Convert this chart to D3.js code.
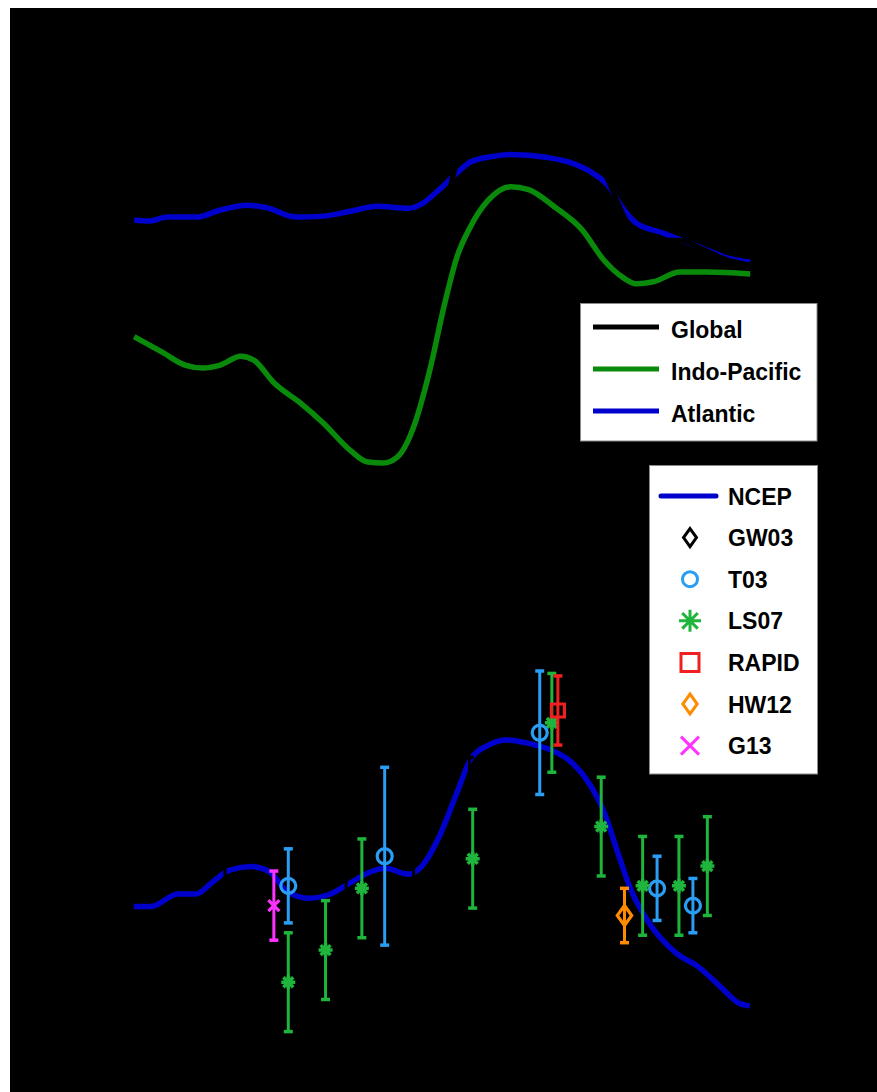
<!DOCTYPE html>
<html>
<head>
<meta charset="utf-8">
<script src="https://cdn.jsdelivr.net/npm/d3@7"></script>
<style>
  body { margin: 0; background: #fff; }
  svg { display: block; }
  text { font-family: "Liberation Sans", Arial, sans-serif; font-weight: bold; }
</style>
</head>
<body>
<div id="chart"></div>
<script>
// top panel: heat transport by basin (latitude, PW)
const latTop = [-64.5, -61.3, -57.4, -51.2, -46.1, -40.3, -36.4, -29.7, -23.9, -18.1, -12.3, -5.7, -2.9, 1.0, 4.8, 7.6, 12.6, 16.4, 24.0, 28.9, 33.6, 37.5, 40.3, 43.3, 48.9, 52.7, 57.7, 62.4, 67.8];
const atlantic = [0.52, 0.51, 0.55, 0.55, 0.62, 0.67, 0.65, 0.55, 0.56, 0.61, 0.66, 0.64, 0.68, 0.83, 1.00, 1.11, 1.17, 1.19, 1.16, 1.11, 1.01, 0.86, 0.65, 0.49, 0.39, 0.32, 0.23, 0.14, 0.09];
const globalMht = [-0.15, -0.24, -0.31, -0.43, -0.34, -0.21, -0.37, -0.76, -0.99, -1.22, -1.30, -1.08, -0.64, 0.25, 1.14, 1.55, 1.94, 2.05, 1.88, 1.65, 1.31, 0.91, 0.59, 0.36, 0.31, 0.31, 0.22, 0.12, 0.06];
const latPac = [-64.5, -58.4, -53.6, -49.7, -46.0, -41.6, -38.8, -34.5, -28.7, -23.9, -18.1, -14.3, -11.0, -8.0, -4.7, -1.0, 2.0, 4.8, 7.7, 11.5, 16.4, 20.2, 25.9, 31.7, 36.4, 40.3, 43.3, 47.0, 52.7, 58.5, 67.8];
const indoPacific = [-0.67, -0.83, -0.96, -0.99, -0.96, -0.87, -0.91, -1.14, -1.35, -1.55, -1.83, -1.95, -1.96, -1.90, -1.62, -1.01, -0.37, 0.14, 0.45, 0.72, 0.86, 0.83, 0.65, 0.42, 0.11, -0.06, -0.13, -0.11, -0.01, -0.01, -0.03];

// bottom panel: Atlantic NCEP and observations
const latNcep = [-64.6, -60.9, -55.1, -51.2, -47.9, -44.0, -39.2, -35.4, -31.6, -26.8, -22.9, -18.1, -14.3, -10.5, -5.7, -2.8, 1.0, 4.8, 7.7, 11.6, 15.4, 20.2, 25.0, 28.8, 32.7, 36.5, 39.4, 42.2, 46.1, 51.9, 56.6, 61.4, 65.3, 67.7];
const ncep = [0.536, 0.536, 0.587, 0.587, 0.632, 0.684, 0.698, 0.677, 0.596, 0.570, 0.583, 0.632, 0.672, 0.691, 0.667, 0.698, 0.819, 0.996, 1.130, 1.190, 1.211, 1.197, 1.170, 1.130, 1.049, 0.915, 0.753, 0.603, 0.470, 0.348, 0.293, 0.212, 0.146, 0.134];

const gw03Lat = [-45, -19, -4.5, 7.5];
const gw03 = [0.48, 0.42, 0.45, 0.92];
const gw03Err = [0.22, 0.25, 0.3, 0.22];

const t03Lat = [-31.4, -10.7, 22.6, 47.8, 55.5];
const t03 = [0.62, 0.74, 1.24, 0.61, 0.54];
const t03Err = [0.15, 0.36, 0.25, 0.13, 0.11];

const ls07Lat = [-31.4, -23.4, -15.6, 8.2, 25.2, 35.8, 44.7, 52.5, 58.6];
const ls07 = [0.23, 0.36, 0.61, 0.73, 1.28, 0.86, 0.62, 0.62, 0.70];
const ls07Err = [0.2, 0.2, 0.2, 0.2, 0.2, 0.2, 0.2, 0.2, 0.2];

const rapidLat = [26.5], rapid = [1.33], rapidErr = [0.14];
const hw12Lat = [40.8], hw12 = [0.50], hw12Err = [0.11];
const g13Lat = [-34.5], g13 = [0.54], g13Err = [0.14];

const topLegend = ['Global', 'Indo-Pacific', 'Atlantic'];
const botLegend = ['NCEP', 'GW03', 'T03', 'LS07', 'RAPID', 'HW12', 'G13'];

const W = 877, H = 1092;
const C = {
  global: '#000000', pac: '#0a8a0a', atl: '#0000cd',
  ncep: '#0000cd', gw03: '#000000', t03: '#2a9df4', ls07: '#1fb53c',
  rapid: '#f02020', hw12: '#ff8c00', g13: '#ff33ff'
};

const svg = d3.select('#chart').append('svg')
  .attr('width', W).attr('height', H);

// the figure background (transparent in the source, shown black)
svg.append('rect').attr('x', 10).attr('y', 8)
  .attr('width', W - 10).attr('height', H - 8).attr('fill', '#000');

const x = d3.scaleLinear().domain([-80, 80]).range([62, 807]);
const yTop = d3.scaleLinear().domain([-2, 2]).range([467, 75]);
const yBot = d3.scaleLinear().domain([0, 1.5]).range([1039, 668.5]);

// axes are black, like the rest of the figure frame
svg.append('g').attr('transform', 'translate(0,480)')
  .call(d3.axisBottom(x).tickFormat('')).attr('color', '#000');
svg.append('g').attr('transform', 'translate(62,0)')
  .call(d3.axisLeft(yTop).tickFormat('')).attr('color', '#000');
svg.append('g').attr('transform', 'translate(0,1050)')
  .call(d3.axisBottom(x).tickFormat('')).attr('color', '#000');
svg.append('g').attr('transform', 'translate(62,0)')
  .call(d3.axisLeft(yBot).tickFormat('')).attr('color', '#000');

function drawLine(lats, vals, y, color) {
  const line = d3.line().x(d => x(d[0])).y(d => y(d[1])).curve(d3.curveMonotoneX);
  svg.append('path')
    .datum(d3.zip(lats, vals))
    .attr('fill', 'none').attr('stroke', color)
    .attr('stroke-width', 5.5).attr('stroke-linejoin', 'round')
    .attr('d', line);
}

// top panel lines
drawLine(latTop, atlantic, yTop, C.atl);
drawLine(latPac, indoPacific, yTop, C.pac);
drawLine(latTop, globalMht, yTop, C.global);

// marker shapes
function marker(g, type, cx, cy, s, color, sw) {
  if (type === 'circle') {
    g.append('circle').attr('cx', cx).attr('cy', cy).attr('r', s)
      .attr('fill', 'none').attr('stroke', color).attr('stroke-width', sw);
    return;
  }
  let d = '';
  if (type === 'diamond') {
    const w = s * 0.72, h = s;
    d = `M${cx},${cy - h}L${cx + w},${cy}L${cx},${cy + h}L${cx - w},${cy}Z`;
  } else if (type === 'square') {
    d = `M${cx - s},${cy - s}H${cx + s}V${cy + s}H${cx - s}Z`;
  } else if (type === 'x') {
    d = `M${cx - s},${cy - s}L${cx + s},${cy + s}M${cx - s},${cy + s}L${cx + s},${cy - s}`;
  } else if (type === 'star') {
    const k = s * 0.7071;
    d = `M${cx},${cy - s}V${cy + s}M${cx - s},${cy}H${cx + s}` +
        `M${cx - k},${cy - k}L${cx + k},${cy + k}M${cx - k},${cy + k}L${cx + k},${cy - k}`;
  }
  g.append('path').attr('d', d).attr('fill', 'none')
    .attr('stroke', color).attr('stroke-width', sw).attr('stroke-linejoin', 'miter');
}

// bottom panel
drawLine(latNcep, ncep, yBot, C.ncep);

function errSeries(lats, vals, errs, color, type, size, sw) {
  const g = svg.append('g');
  d3.zip(lats, vals, errs).forEach(([la, v, e]) => {
    const cx = x(la);
    g.append('line').attr('x1', cx).attr('x2', cx)
      .attr('y1', yBot(v - e)).attr('y2', yBot(v + e))
      .attr('stroke', color).attr('stroke-width', 3);
    [v - e, v + e].forEach(t => {
      g.append('line').attr('x1', cx - 4.5).attr('x2', cx + 4.5)
        .attr('y1', yBot(t)).attr('y2', yBot(t))
        .attr('stroke', color).attr('stroke-width', 3.5);
    });
    marker(g, type, cx, yBot(v), size, color, sw);
  });
}

errSeries(gw03Lat, gw03, gw03Err, C.gw03, 'diamond', 8, 3);
errSeries(t03Lat, t03, t03Err, C.t03, 'circle', 7.5, 3.2);
errSeries(ls07Lat, ls07, ls07Err, C.ls07, 'star', 7, 3.5);
errSeries(rapidLat, rapid, rapidErr, C.rapid, 'square', 6.5, 3.2);
errSeries(hw12Lat, hw12, hw12Err, C.hw12, 'diamond', 10, 3.2);
errSeries(g13Lat, g13, g13Err, C.g13, 'x', 5.5, 3.2);

// top legend
const lg1 = svg.append('g');
lg1.append('rect').attr('x', 580.5).attr('y', 303.5).attr('width', 236.5).attr('height', 137.5)
  .attr('fill', '#fff').attr('stroke', '#8a8a8a').attr('stroke-width', 1);
const lg1Colors = [C.global, C.pac, C.atl];
topLegend.forEach((name, i) => {
  const cy = 327 + i * 42;
  lg1.append('line').attr('x1', 593).attr('x2', 659).attr('y1', cy).attr('y2', cy)
    .attr('stroke', lg1Colors[i]).attr('stroke-width', 5);
  lg1.append('text').attr('x', 671).attr('y', cy + 11).attr('font-size', 23)
    .attr('fill', '#000').text(name);
});

// bottom legend
const lg2 = svg.append('g');
lg2.append('rect').attr('x', 649.5).attr('y', 465.5).attr('width', 168).attr('height', 308.5)
  .attr('fill', '#fff').attr('stroke', '#8a8a8a').attr('stroke-width', 1);
const lg2Types = [null, 'diamond', 'circle', 'star', 'square', 'diamond', 'x'];
const lg2Colors = [C.ncep, C.gw03, C.t03, C.ls07, C.rapid, C.hw12, C.g13];
const lg2Sizes = [0, 9, 7.5, 11, 9, 10, 9];
botLegend.forEach((name, i) => {
  const cy = 496 + i * 41.6;
  if (lg2Types[i] === null) {
    lg2.append('line').attr('x1', 661).attr('x2', 716).attr('y1', cy).attr('y2', cy)
      .attr('stroke', lg2Colors[i]).attr('stroke-width', 5).attr('stroke-linecap', 'round');
  } else {
    marker(lg2, lg2Types[i], 690, cy, lg2Sizes[i], lg2Colors[i], 3);
  }
  lg2.append('text').attr('x', 728).attr('y', cy + 8.5).attr('font-size', 23)
    .attr('fill', '#000').text(name);
});
</script>
</body>
</html>
